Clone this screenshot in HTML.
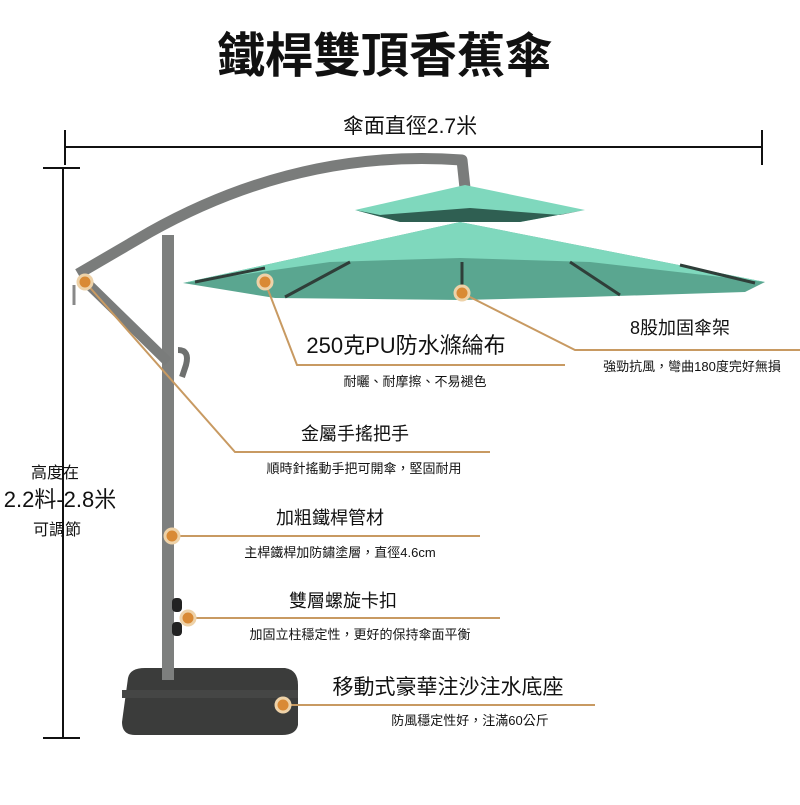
<!DOCTYPE html>
<html><head><meta charset="utf-8"><style>
body{margin:0;background:#fff;}
svg text{font-family:"Liberation Sans","Noto Sans CJK TC",sans-serif;fill:#111;}
</style></head><body>
<svg width="800" height="800" viewBox="0 0 800 800" xmlns="http://www.w3.org/2000/svg">
<rect width="800" height="800" fill="#fff"/>
<text x="385" y="72" font-size="48" font-weight="bold" text-anchor="middle">鐵桿雙頂香蕉傘</text>
<!-- width dimension -->
<line x1="65" y1="147" x2="762" y2="147" stroke="#111" stroke-width="2"/>
<line x1="65" y1="130" x2="65" y2="165" stroke="#111" stroke-width="2"/>
<line x1="762" y1="130" x2="762" y2="165" stroke="#111" stroke-width="2"/>
<rect x="330" y="110" width="160" height="28" fill="#fff"/>
<text x="410" y="133" font-size="21" text-anchor="middle">傘面直徑2.7米</text>
<!-- height dimension -->
<line x1="63" y1="168" x2="63" y2="738" stroke="#111" stroke-width="2"/>
<line x1="43" y1="168" x2="80" y2="168" stroke="#111" stroke-width="2"/>
<line x1="43" y1="738" x2="80" y2="738" stroke="#111" stroke-width="2"/>
<text x="55" y="478" font-size="16" text-anchor="middle">高度在</text>
<text x="60" y="507" font-size="22" text-anchor="middle">2.2料-2.8米</text>
<text x="57" y="535" font-size="16" text-anchor="middle">可調節</text>
<!-- base -->
<path d="M128 678 Q130 668 145 668 L285 668 Q298 670 298 685 L298 725 Q296 735 282 735 L135 735 Q122 735 122 722 Z" fill="#3b3c3b"/>
<rect x="122" y="690" width="176" height="8" fill="#454645"/>
<!-- pole -->
<rect x="162" y="235" width="12" height="445" fill="#7d7f7e"/>
<rect x="172" y="598" width="10" height="14" rx="4" fill="#222"/>
<rect x="172" y="622" width="10" height="14" rx="4" fill="#222"/>
<!-- arm -->
<path d="M78 274 L150 232 Q300 148 462 160 L465 188" fill="none" stroke="#7a7c7b" stroke-width="11" stroke-linejoin="round"/>
<line x1="86" y1="282" x2="168" y2="362" stroke="#7a7c7b" stroke-width="10"/>
<path d="M178 350 q12 0 8 15 l-4 12" fill="none" stroke="#6e706f" stroke-width="6"/>
<line x1="74" y1="285" x2="74" y2="305" stroke="#888" stroke-width="3"/>
<!-- canopy lower -->
<polygon points="183,283 460,222 765,282 745,292 585,297 462,300 275,298" fill="#5aa690"/>
<polygon points="183,283 460,222 765,282 590,262 460,258 330,262" fill="#7fd8bd"/>
<g stroke="#2f3e39" stroke-width="3">
<line x1="195" y1="282" x2="265" y2="268"/>
<line x1="285" y1="297" x2="350" y2="262"/>
<line x1="462" y1="300" x2="462" y2="262"/>
<line x1="620" y1="295" x2="570" y2="262"/>
<line x1="755" y1="283" x2="680" y2="265"/>
</g>
<!-- canopy upper -->
<polygon points="355,210 465,185 585,210 520,222 400,222" fill="#7fd8bd"/>
<polygon points="355,210 400,222 520,222 585,210 560,215 470,208 380,215" fill="#2f5f52"/>
<!-- dots and leaders -->
<g stroke="#c89a62" stroke-width="2" fill="none">
<polyline points="265,282 297,365 565,365"/>
<polyline points="462,293 575,350 800,350"/>
<polyline points="85,282 235,452 490,452"/>
<line x1="172" y1="536" x2="480" y2="536"/>
<line x1="186" y1="618" x2="500" y2="618"/>
<line x1="283" y1="705" x2="595" y2="705"/>
</g>
<g fill="#d98a35" stroke="#eed2a8" stroke-width="3">
<circle cx="265" cy="282" r="7"/>
<circle cx="462" cy="293" r="7"/>
<circle cx="85" cy="282" r="7"/>
<circle cx="172" cy="536" r="7"/>
<circle cx="188" cy="618" r="7"/>
<circle cx="283" cy="705" r="7"/>
</g>
<!-- labels -->
<text x="406" y="353" font-size="22" text-anchor="middle">250克PU防水滌綸布</text>
<text x="415" y="386" font-size="13" text-anchor="middle">耐曬、耐摩擦、不易褪色</text>
<text x="680" y="334" font-size="18" text-anchor="middle">8股加固傘架</text>
<text x="692" y="371" font-size="13" text-anchor="middle">強勁抗風，彎曲180度完好無損</text>
<text x="355" y="440" font-size="18" text-anchor="middle">金屬手搖把手</text>
<text x="364" y="473" font-size="13" text-anchor="middle">順時針搖動手把可開傘，堅固耐用</text>
<text x="330" y="524" font-size="18" text-anchor="middle">加粗鐵桿管材</text>
<text x="340" y="557" font-size="13" text-anchor="middle">主桿鐵桿加防鏽塗層，直徑4.6cm</text>
<text x="343" y="607" font-size="18" text-anchor="middle">雙層螺旋卡扣</text>
<text x="360" y="639" font-size="13" text-anchor="middle">加固立柱穩定性，更好的保持傘面平衡</text>
<text x="448" y="694" font-size="21" text-anchor="middle">移動式豪華注沙注水底座</text>
<text x="470" y="725" font-size="13" text-anchor="middle">防風穩定性好，注滿60公斤</text>
</svg>
</body></html>
